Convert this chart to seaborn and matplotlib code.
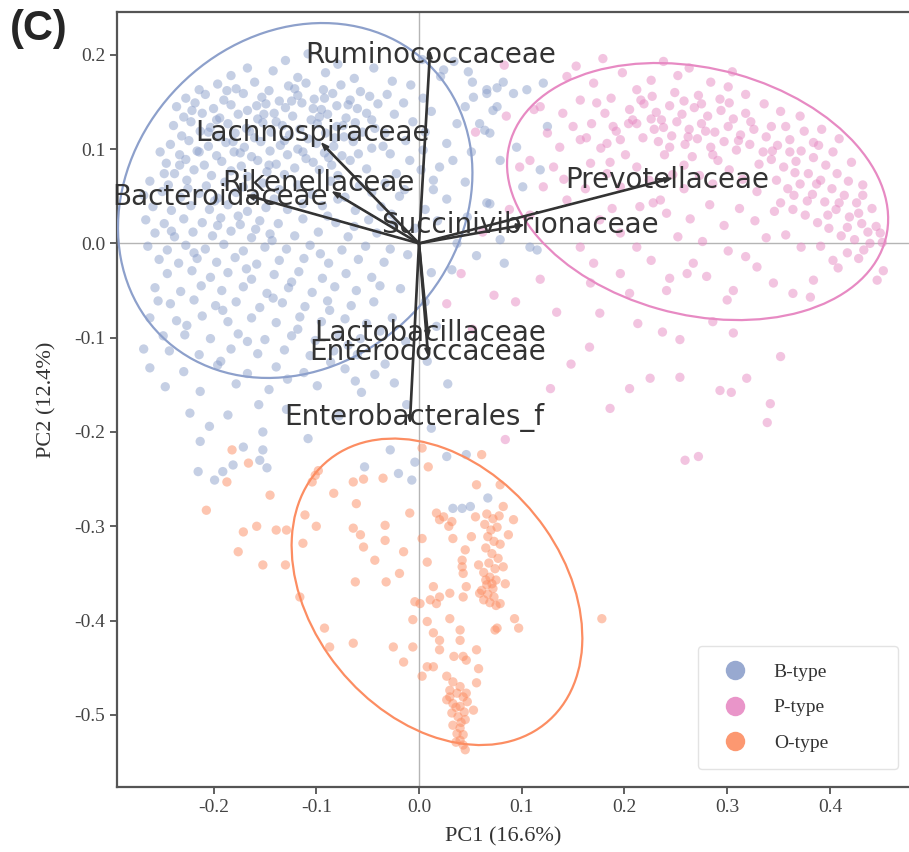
import numpy as np
import pandas as pd
import seaborn as sns
import matplotlib.pyplot as plt
from matplotlib.patches import Ellipse
from matplotlib.lines import Line2D

# PCA scores, one list per enterotype
b_type = [
    (-0.214,0.163),(-0.196,0.169),(-0.178,0.164),(-0.160,0.171),(-0.146,0.162),(-0.127,0.167),(-0.110,0.170),(-0.093,0.163),(-0.076,0.168),(-0.057,0.161),
    (-0.227,0.154),(-0.208,0.158),(-0.190,0.152),(-0.171,0.159),(-0.153,0.155),(-0.136,0.151),(-0.118,0.157),(-0.102,0.153),(-0.084,0.159),(-0.067,0.152),(-0.048,0.156),
    (-0.236,0.145),(-0.218,0.149),(-0.200,0.143),(-0.183,0.147),(-0.167,0.141),(-0.149,0.148),(-0.130,0.144),(-0.114,0.149),(-0.095,0.142),(-0.080,0.146),(-0.060,0.143),(-0.040,0.148),
    (-0.229,0.134),(-0.211,0.138),(-0.194,0.133),(-0.176,0.137),(-0.157,0.132),(-0.141,0.138),(-0.123,0.135),(-0.105,0.131),(-0.089,0.137),(-0.071,0.133),(-0.051,0.138),
    (-0.239,0.125),(-0.222,0.129),(-0.203,0.123),(-0.186,0.127),(-0.168,0.122),(-0.152,0.128),(-0.133,0.125),(-0.116,0.121),(-0.099,0.127),(-0.080,0.124),(-0.062,0.128),(-0.043,0.122),
    (-0.231,0.114),(-0.213,0.119),(-0.195,0.113),(-0.179,0.117),(-0.160,0.112),(-0.144,0.118),(-0.126,0.115),(-0.108,0.111),(-0.091,0.117),(-0.073,0.113),(-0.055,0.118),
    (-0.242,0.105),(-0.224,0.109),(-0.205,0.103),(-0.188,0.107),(-0.170,0.102),(-0.154,0.108),(-0.135,0.104),(-0.118,0.100),(-0.100,0.106),(-0.083,0.103),(-0.064,0.108),(-0.046,0.101),
    (-0.233,0.094),(-0.216,0.098),(-0.197,0.093),(-0.180,0.097),(-0.163,0.092),(-0.145,0.098),(-0.128,0.094),(-0.110,0.090),(-0.092,0.096),(-0.075,0.093),
    (-0.246,0.085),(-0.227,0.089),(-0.209,0.083),(-0.192,0.087),(-0.173,0.082),(-0.157,0.088),(-0.139,0.084),(-0.121,0.080),(-0.103,0.086),(-0.085,0.083),(-0.067,0.088),
    (-0.238,0.074),(-0.219,0.078),(-0.202,0.072),(-0.183,0.077),(-0.167,0.071),(-0.148,0.076),(-0.131,0.073),(-0.097,0.078),(-0.079,0.072),
    (-0.221,0.141),(-0.187,0.162),(-0.158,0.146),(-0.139,0.129),(-0.121,0.164),(-0.097,0.134),(-0.082,0.112),(-0.069,0.147),(-0.205,0.118),(-0.174,0.096),
    (-0.146,0.083),(-0.113,0.097),(-0.088,0.091),(-0.059,0.095),(-0.233,0.083),(-0.197,0.131),(-0.165,0.119),(-0.131,0.109),(-0.103,0.143),(-0.074,0.125),
    (-0.214,0.097),(-0.181,0.108),(-0.151,0.137),(-0.124,0.151),(-0.092,0.154),(-0.064,0.115),(-0.046,0.131),(-0.035,0.103),(-0.252,0.097),
    (-0.262,0.066),(-0.244,0.062),(-0.226,0.067),(-0.207,0.061),(-0.189,0.065),(-0.171,0.060),(-0.152,0.064),(-0.118,0.062),(-0.086,0.066),(-0.058,0.061),(-0.033,0.064),
    (-0.268,0.051),(-0.250,0.055),(-0.232,0.049),(-0.214,0.053),(-0.196,0.048),(-0.178,0.054),(-0.160,0.050),(-0.141,0.047),(-0.104,0.052),(-0.072,0.049),(-0.046,0.054),(-0.019,0.050),
    (-0.259,0.039),(-0.241,0.035),(-0.222,0.040),(-0.204,0.036),(-0.186,0.041),(-0.167,0.034),(-0.149,0.038),(-0.128,0.036),(-0.094,0.040),(-0.062,0.035),(-0.037,0.039),
    (-0.266,0.025),(-0.248,0.021),(-0.229,0.026),(-0.211,0.022),(-0.193,0.027),(-0.174,0.020),(-0.155,0.024),(-0.137,0.021),(-0.113,0.026),(-0.081,0.022),(-0.049,0.025),(-0.024,0.021),
    (-0.257,0.011),(-0.238,0.007),(-0.220,0.012),(-0.201,0.008),(-0.183,0.013),(-0.163,0.006),(-0.145,0.010),(-0.121,0.008),(-0.098,0.012),(-0.069,0.007),(-0.041,0.011),
    (-0.264,-0.003),(-0.245,-0.007),(-0.227,-0.002),(-0.208,-0.006),(-0.190,-0.001),(-0.171,-0.008),(-0.150,-0.004),(-0.129,-0.006),(-0.106,-0.002),(-0.075,-0.007),(-0.052,-0.003),(-0.028,-0.006),
    (-0.253,-0.017),(-0.234,-0.021),(-0.216,-0.016),(-0.197,-0.020),(-0.179,-0.015),(-0.158,-0.022),(-0.136,-0.018),(-0.112,-0.016),(-0.088,-0.021),(-0.059,-0.017),(-0.034,-0.020),
    (-0.248,0.074),(-0.225,0.058),(-0.199,0.045),(-0.176,0.029),(-0.159,0.015),(-0.136,0.057),(-0.113,0.042),(-0.089,0.029),(-0.063,0.018),(-0.241,0.013),
    (-0.219,-0.010),(-0.196,0.019),(-0.168,-0.027),(-0.143,0.003),(-0.124,-0.041),(-0.096,-0.011),(-0.079,0.047),(-0.051,0.079),
    (-0.245,-0.032),(-0.221,-0.029),(-0.203,-0.036),(-0.186,-0.031),(-0.163,-0.038),(-0.141,-0.033),(-0.117,-0.030),(-0.094,-0.037),(-0.071,-0.032),(-0.046,-0.036),
    (-0.257,-0.047),(-0.232,-0.051),(-0.212,-0.045),(-0.192,-0.050),(-0.171,-0.046),(-0.148,-0.053),(-0.127,-0.047),(-0.104,-0.052),(-0.082,-0.046),(-0.061,-0.050),(-0.038,-0.045),
    (-0.242,-0.064),(-0.219,-0.060),(-0.198,-0.066),(-0.178,-0.062),(-0.155,-0.068),(-0.133,-0.063),(-0.111,-0.067),(-0.089,-0.061),(-0.066,-0.066),(-0.044,-0.062),
    (-0.262,-0.079),(-0.236,-0.082),(-0.211,-0.077),(-0.186,-0.083),(-0.163,-0.079),(-0.139,-0.084),(-0.116,-0.078),(-0.095,-0.083),(-0.072,-0.080),(-0.051,-0.085),
    (-0.228,-0.097),(-0.203,-0.101),(-0.176,-0.096),(-0.150,-0.102),(-0.124,-0.098),(-0.101,-0.103),(-0.078,-0.097),(-0.057,-0.101),
    (-0.243,-0.114),(-0.214,-0.118),(-0.183,-0.112),(-0.157,-0.117),(-0.131,-0.113),(-0.106,-0.119),(-0.083,-0.114),(-0.060,-0.118),
    (-0.254,-0.061),(-0.226,-0.087),(-0.191,-0.071),(-0.167,-0.104),(-0.142,-0.058),(-0.118,-0.091),(-0.087,-0.071),(-0.069,-0.108),(-0.038,-0.093),
    (-0.249,-0.098),(-0.268,-0.112),(-0.193,-0.125),(-0.128,-0.144),(-0.086,-0.126),(-0.062,-0.146),
    (-0.262,-0.132),(-0.229,-0.136),(-0.196,-0.129),(-0.167,-0.138),(-0.139,-0.131),(-0.112,-0.137),(-0.072,-0.133),(-0.043,-0.139),
    (-0.247,-0.152),(-0.213,-0.157),(-0.178,-0.149),(-0.146,-0.155),(-0.099,-0.151),(-0.056,-0.158),(-0.024,-0.148),
    (-0.223,-0.180),(-0.204,-0.194),(-0.186,-0.182),(-0.156,-0.171),(-0.152,-0.200),(-0.171,-0.216),(-0.213,-0.210),(-0.215,-0.242),(-0.199,-0.251),
    (-0.191,-0.242),(-0.181,-0.235),(-0.155,-0.230),(-0.148,-0.238),(-0.152,-0.219),(-0.108,-0.207),(-0.129,-0.176),(-0.078,-0.183),
    (-0.028,-0.219),(-0.053,-0.237),(-0.020,-0.244),(-0.007,-0.251),(-0.004,-0.232),(0.027,-0.226),(0.046,-0.224),(0.033,-0.281),(0.042,-0.281),
    (0.050,-0.279),(0.067,-0.270),(-0.012,-0.171),(0.012,-0.196),
    (-0.183,0.178),(-0.142,0.183),(-0.118,0.176),(-0.091,0.181),(-0.063,0.175),(-0.044,0.186),(-0.026,0.172),(-0.008,0.168),(0.021,0.177),(0.048,0.182),
    (0.034,0.193),(-0.130,0.194),(-0.108,0.201),(0.003,0.195),(-0.167,0.186),(-0.079,0.190),
    (0.024,0.184),(0.052,0.171),(0.053,0.155),(0.066,0.159),(0.076,0.165),(0.082,0.171),(0.045,0.145),(0.037,0.127),(0.059,0.127),(0.064,0.120),
    (0.072,0.141),(0.033,0.088),(0.027,0.106),(0.020,0.081),(0.014,0.067),(0.066,0.043),(0.037,0.000),(0.014,0.057),
    (0.066,0.163),(0.076,0.145),(0.092,0.159),(0.105,0.163),(0.069,0.117),(0.095,0.102),(0.079,0.088),(0.118,0.078),(0.125,0.124),(0.101,0.060),
    (0.069,0.042),(0.108,-0.004),(0.115,-0.007),(0.079,0.004),(0.121,0.170),
    (-0.031,0.158),(-0.015,0.149),(0.004,0.154),(-0.024,0.137),(-0.006,0.129),(0.012,0.140),(-0.033,0.117),(-0.013,0.109),(0.006,0.118),(-0.028,0.095),
    (-0.009,0.088),(0.004,0.099),(-0.022,0.074),(0.002,0.078),(-0.014,0.057),(0.027,0.047),(0.045,0.065),(0.051,0.097),(0.047,0.028),(0.018,0.024),
    (0.006,0.036),(-0.004,0.016),(0.056,-0.013),(0.083,-0.021),(0.032,-0.028),
    (-0.027,0.031),(-0.011,-0.012),(0.012,-0.031),(-0.018,-0.048),(0.006,-0.062),(-0.026,-0.079),(0.017,-0.088),(-0.013,-0.104),(-0.033,-0.128),(0.008,-0.125),(0.028,-0.149),
]

p_type = [
    (0.205,0.142),(0.219,0.148),(0.231,0.139),(0.244,0.146),(0.256,0.137),(0.268,0.144),(0.281,0.135),(0.294,0.141),(0.306,0.132),(0.318,0.138),
    (0.212,0.127),(0.226,0.132),(0.238,0.123),(0.251,0.129),(0.263,0.121),(0.275,0.127),(0.288,0.118),(0.301,0.124),(0.313,0.115),(0.326,0.121),
    (0.218,0.112),(0.233,0.108),(0.246,0.114),(0.259,0.105),(0.271,0.111),(0.284,0.102),(0.297,0.108),(0.309,0.099),(0.322,0.105),(0.335,0.097),
    (0.227,0.156),(0.249,0.160),(0.272,0.157),(0.293,0.153),(0.239,0.094),(0.266,0.092),(0.291,0.088),
    (0.338,0.113),(0.349,0.104),(0.361,0.110),(0.372,0.098),(0.384,0.091),(0.396,0.083),(0.407,0.074),(0.418,0.066),
    (0.343,0.089),(0.355,0.081),(0.367,0.087),(0.379,0.074),(0.391,0.067),(0.402,0.058),(0.414,0.051),(0.426,0.043),
    (0.348,0.067),(0.359,0.058),(0.371,0.063),(0.383,0.052),(0.395,0.044),(0.406,0.036),(0.419,0.028),(0.431,0.021),
    (0.352,0.043),(0.364,0.036),(0.376,0.030),(0.388,0.022),(0.399,0.016),(0.411,0.008),(0.424,0.004),(0.437,0.012),
    (0.357,0.124),(0.375,0.119),(0.389,0.104),(0.403,0.097),(0.421,0.086),(0.432,0.062),(0.441,0.037),(0.445,0.018),
    (0.236,0.131),(0.258,0.151),(0.279,0.119),(0.302,0.149),(0.323,0.129),(0.344,0.098),(0.366,0.075),(0.387,0.063),(0.409,0.043),(0.428,0.032),
    (0.398,0.030),(0.378,0.045),(0.417,0.017),(0.361,0.097),(0.331,0.084),(0.311,0.109),(0.286,0.094),(0.262,0.113),(0.244,0.102),(0.229,0.121),
    (0.275,0.148),(0.343,0.124),(0.384,0.107),(0.365,0.051),(0.432,0.051),(0.216,0.152),(0.204,0.127),(0.187,0.154),(0.258,0.083),(0.346,0.034),
    (0.226,0.173),(0.252,0.178),(0.263,0.186),(0.284,0.171),(0.301,0.166),(0.318,0.158),(0.336,0.148),(0.352,0.140),(0.371,0.135),(0.238,0.193),
    (0.198,0.181),(0.179,0.196),(0.153,0.188),(0.305,0.182),(0.392,0.121),(0.409,0.111),
    (0.181,0.138),(0.168,0.127),(0.192,0.119),(0.177,0.101),(0.201,0.094),(0.163,0.112),(0.212,0.081),(0.186,0.086),(0.224,0.067),(0.247,0.073),
    (0.258,0.058),(0.273,0.072),(0.286,0.063),(0.302,0.078),(0.315,0.068),(0.329,0.055),(0.241,0.032),(0.264,0.026),(0.283,0.041),(0.297,0.019),
    (0.312,0.037),(0.327,0.024),(0.338,0.006),(0.252,0.007),(0.276,0.002),(0.301,-0.008),(0.318,-0.014),(0.357,0.009),(0.372,-0.004),(0.391,-0.003),
    (0.408,-0.026),(0.428,-0.016),(0.451,0.001),(0.452,-0.029),(0.226,-0.018),(0.244,-0.037),(0.188,0.037),(0.162,0.058),(0.228,0.043),(0.141,0.068),
    (0.144,0.177),(0.170,0.170),(0.157,0.152),(0.173,0.149),(0.140,0.138),(0.125,0.117),(0.137,0.102),(0.157,0.110),(0.183,0.106),(0.196,0.110),
    (0.208,0.131),(0.189,0.124),(0.212,0.163),(0.150,0.124),(0.118,0.145),(0.108,0.088),(0.131,0.081),(0.121,0.060),(0.167,0.085),(0.144,0.046),
    (0.183,0.074),(0.196,0.060),(0.215,0.039),(0.235,0.046),(0.176,0.025),(0.196,0.011),(0.157,-0.004),(0.212,-0.004),(0.170,-0.021),(0.196,-0.032),
    (0.167,-0.042),(0.205,-0.053),(0.241,-0.050),(0.261,-0.032),(0.267,-0.021),(0.280,-0.035),(0.300,-0.060),(0.306,-0.050),(0.329,-0.025),(0.345,-0.042),
    (0.364,-0.053),(0.381,-0.057),(0.384,-0.039),(0.403,-0.018),(0.417,-0.010),(0.433,-0.007),(0.446,-0.039),(0.439,0.000),(0.449,0.011),
    (0.237,-0.094),(0.254,-0.102),(0.306,-0.095),(0.225,-0.143),(0.254,-0.142),(0.293,-0.156),(0.304,-0.158),(0.319,-0.143),(0.342,-0.170),(0.339,-0.190),
    (0.205,-0.154),(0.128,-0.154),(0.134,-0.073),(0.176,-0.074),(0.084,-0.208),(0.259,-0.230),(0.272,-0.226),(0.352,-0.120),(0.286,-0.083),(0.213,-0.085),
    (0.166,-0.110),(0.186,-0.175),(0.148,-0.128),
    (0.055,0.118),(0.085,0.135),(0.098,0.081),(0.112,0.142),(0.088,0.036),(0.062,0.012),(0.041,-0.032),(0.073,-0.055),(0.052,-0.091),(0.094,-0.062),
    (0.118,-0.038),(0.027,-0.064),(0.108,0.030),(0.083,0.189),
]

o_type = [
    (-0.207,-0.283),(-0.171,-0.306),(-0.158,-0.300),(-0.176,-0.327),(-0.152,-0.341),(-0.130,-0.341),(-0.139,-0.304),(-0.129,-0.304),(-0.182,-0.219),
    (-0.166,-0.233),(-0.187,-0.253),(-0.145,-0.267),(-0.116,-0.375),
    (-0.101,-0.246),(-0.083,-0.265),(-0.064,-0.253),(-0.054,-0.250),(-0.035,-0.249),(-0.061,-0.276),(-0.111,-0.288),(-0.100,-0.300),(-0.113,-0.318),
    (-0.064,-0.302),(-0.057,-0.309),(-0.054,-0.322),(-0.033,-0.299),(-0.033,-0.315),(-0.009,-0.286),(-0.015,-0.327),(-0.043,-0.336),(-0.019,-0.350),
    (-0.032,-0.359),(-0.062,-0.359),(0.003,-0.313),(0.008,-0.338),(-0.092,-0.408),(-0.087,-0.428),(-0.064,-0.424),(-0.025,-0.428),(-0.015,-0.444),
    (-0.006,-0.428),(0.009,-0.237),(0.003,-0.217),(-0.098,-0.241),(-0.104,-0.253),
    (0.017,-0.286),(0.024,-0.290),(0.020,-0.293),(0.032,-0.295),(0.056,-0.256),(0.055,-0.290),(0.029,-0.300),(0.033,-0.313),(0.061,-0.224),(0.079,-0.256),
    (0.082,-0.279),(0.092,-0.293),(0.087,-0.309),(0.079,-0.382),(0.074,-0.410),
    (0.066,-0.287),(0.072,-0.292),(0.078,-0.289),(0.064,-0.298),(0.070,-0.304),(0.076,-0.301),(0.067,-0.311),(0.073,-0.316),(0.079,-0.319),(0.065,-0.323),
    (0.071,-0.329),(0.077,-0.334),(0.068,-0.339),(0.074,-0.345),(0.063,-0.349),(0.069,-0.354),(0.075,-0.357),(0.066,-0.362),(0.072,-0.366),(0.061,-0.368),
    (0.067,-0.372),(0.073,-0.375),(0.063,-0.378),(0.069,-0.381),(0.075,-0.384),(0.059,-0.371),(0.071,-0.361),(0.065,-0.357),(0.084,-0.361),(0.082,-0.343),
    (0.058,-0.341),
    (0.051,-0.311),(0.045,-0.325),(0.042,-0.343),(0.043,-0.350),(0.046,-0.364),(0.043,-0.375),(0.042,-0.336),
    (-0.004,-0.380),(0.001,-0.382),(0.011,-0.378),(0.017,-0.382),(0.020,-0.375),(0.030,-0.371),(-0.006,-0.399),(0.008,-0.401),(0.030,-0.398),(0.014,-0.413),
    (0.020,-0.421),(0.040,-0.410),(0.040,-0.421),(0.020,-0.431),(0.034,-0.438),(0.043,-0.438),(0.046,-0.442),(0.056,-0.431),(0.008,-0.449),(0.014,-0.449),
    (0.003,-0.459),(0.058,-0.451),(0.014,-0.364),(0.093,-0.398),(0.097,-0.408),(0.076,-0.408),(0.178,-0.398),
    (0.027,-0.459),(0.033,-0.465),(0.040,-0.470),(0.030,-0.474),(0.037,-0.477),(0.043,-0.481),(0.046,-0.477),(0.027,-0.484),(0.033,-0.488),(0.040,-0.491),
    (0.032,-0.498),(0.038,-0.502),(0.045,-0.505),(0.033,-0.511),(0.040,-0.514),(0.037,-0.520),(0.043,-0.521),(0.040,-0.527),(0.043,-0.532),(0.045,-0.537),
    (0.053,-0.495),(0.056,-0.466),(0.036,-0.492),(0.044,-0.497),(0.030,-0.481),(0.047,-0.486),(0.041,-0.508),(0.036,-0.529),
]

type_names = ['B-type', 'P-type', 'O-type']

# ellipse centre and covariance (var x, var y, cov xy) per type
ell_center = [(-0.1205, 0.0455), (0.2712, 0.0550), (0.0175, -0.3695)]
ell_cov = [(0.02976, 0.03542, 0.0050), (0.03441, 0.01858, -0.00538), (0.02002, 0.02641, -0.00691)]

# loading vectors (arrow tips) and where their labels sit
taxa = ['Ruminococcaceae', 'Lachnospiraceae', 'Rikenellaceae', 'Bacteroidaceae', 'Succinivibrionaceae',
        'Prevotellaceae', 'Lactobacillaceae', 'Enterococcaceae', 'Enterobacterales_f']
load_pc1 = [0.0107, -0.0944, -0.0837, -0.1670, 0.1010, 0.2454, 0.0088, 0.0088, -0.0088]
load_pc2 = [0.2030, 0.1060, 0.0545, 0.0510, 0.0195, 0.0690, -0.0990, -0.1180, -0.1890]
label_pc1 = [0.0117, -0.1032, -0.0983, -0.1938, 0.0983, 0.2415, 0.0107, 0.0088, -0.0049]
label_pc2 = [0.1999, 0.1170, 0.0640, 0.0490, 0.0195, 0.0670, -0.0950, -0.1150, -0.1850]

frames = []
for name, pts in zip(type_names, [b_type, p_type, o_type]):
    arr = np.array(pts)
    frames.append(pd.DataFrame({'PC1': arr[:, 0], 'PC2': arr[:, 1], 'type': name}))
df = pd.concat(frames, ignore_index=True)

sns.set_theme(style='ticks')
plt.rcParams['font.family'] = ['DejaVu Sans']
plt.rcParams['axes.unicode_minus'] = False

set2 = sns.color_palette('Set2')
palette = {'B-type': set2[2], 'P-type': set2[3], 'O-type': set2[1]}

fig = plt.figure(figsize=(9.09, 8.52), dpi=100)
ax = fig.add_axes([0.1287, 0.0763, 0.8713, 0.9096])

ax.axhline(0, color='#b5b5b5', lw=1, zorder=0)
ax.axvline(0, color='#b5b5b5', lw=1, zorder=0)

sns.scatterplot(data=df, x='PC1', y='PC2', hue='type', hue_order=type_names, palette=palette,
                s=45, alpha=0.5, linewidth=0, legend=False, ax=ax, zorder=2)

for name, c, cov in zip(type_names, ell_center, ell_cov):
    S = np.array([[cov[0], cov[2]], [cov[2], cov[1]]])
    vals, vecs = np.linalg.eigh(S)
    ang = np.degrees(np.arctan2(vecs[1, 1], vecs[0, 1]))
    ax.add_patch(Ellipse(c, width=2 * np.sqrt(vals[1]), height=2 * np.sqrt(vals[0]), angle=ang,
                         fill=False, edgecolor=palette[name], lw=1.6, zorder=3))

for i, t in enumerate(taxa):
    ax.arrow(0, 0, load_pc1[i], load_pc2[i], color='#333333', lw=1.2, head_width=0.005,
             head_length=0.007, length_includes_head=True, zorder=4)
    ax.text(label_pc1[i], label_pc2[i], t, ha='center', va='center', fontsize=20,
            color='#333333', zorder=5)

ax.set_xlim(-0.294, 0.477)
ax.set_ylim(-0.5765, 0.2454)
ax.set_xticks([-0.2, -0.1, 0.0, 0.1, 0.2, 0.3, 0.4])
ax.set_yticks([-0.5, -0.4, -0.3, -0.2, -0.1, 0.0, 0.1, 0.2])
ax.set_xticklabels(['-0.2', '-0.1', '0.0', '0.1', '0.2', '0.3', '0.4'])
ax.set_yticklabels(['-0.5', '-0.4', '-0.3', '-0.2', '-0.1', '0.0', '0.1', '0.2'])
for lab in ax.get_xticklabels() + ax.get_yticklabels():
    lab.set_family('Liberation Serif')
    lab.set_fontsize(14)
    lab.set_color('#444444')
ax.tick_params(length=5, width=1.2, color='#444444')

ax.set_xlabel('PC1 (16.6%)', family='Liberation Serif', fontsize=16, color='#333333')
ax.set_ylabel('PC2 (12.4%)', family='Liberation Serif', fontsize=16, color='#333333')
ax.xaxis.set_label_coords(0.487, -0.052)
ax.yaxis.set_label_coords(-0.076, 0.5)

for side in ['left', 'bottom', 'top']:
    ax.spines[side].set_color('#555555')
    ax.spines[side].set_linewidth(1.6)
ax.spines['right'].set_visible(False)

handles = [Line2D([], [], marker='o', linestyle='', markersize=14, markerfacecolor=palette[n],
                  markeredgewidth=0, alpha=0.9) for n in type_names]
leg = ax.legend(handles, type_names, loc='lower left', mode='expand',
                bbox_to_anchor=(0.7336, 0.0232, 0.2525, 0.17), borderaxespad=0,
                prop={'family': 'Liberation Serif', 'size': 14}, frameon=True,
                labelspacing=0.9, handletextpad=1.0, borderpad=0.9, handlelength=2.0)
leg.get_frame().set_edgecolor('#dddddd')
leg.get_frame().set_linewidth(1.0)
for txt in leg.get_texts():
    txt.set_color('#333333')

fig.text(0.011, 0.99, '(C)', fontsize=30, fontweight='bold', family='Liberation Sans', va='top')

fig.savefig('out.png', dpi=100)
